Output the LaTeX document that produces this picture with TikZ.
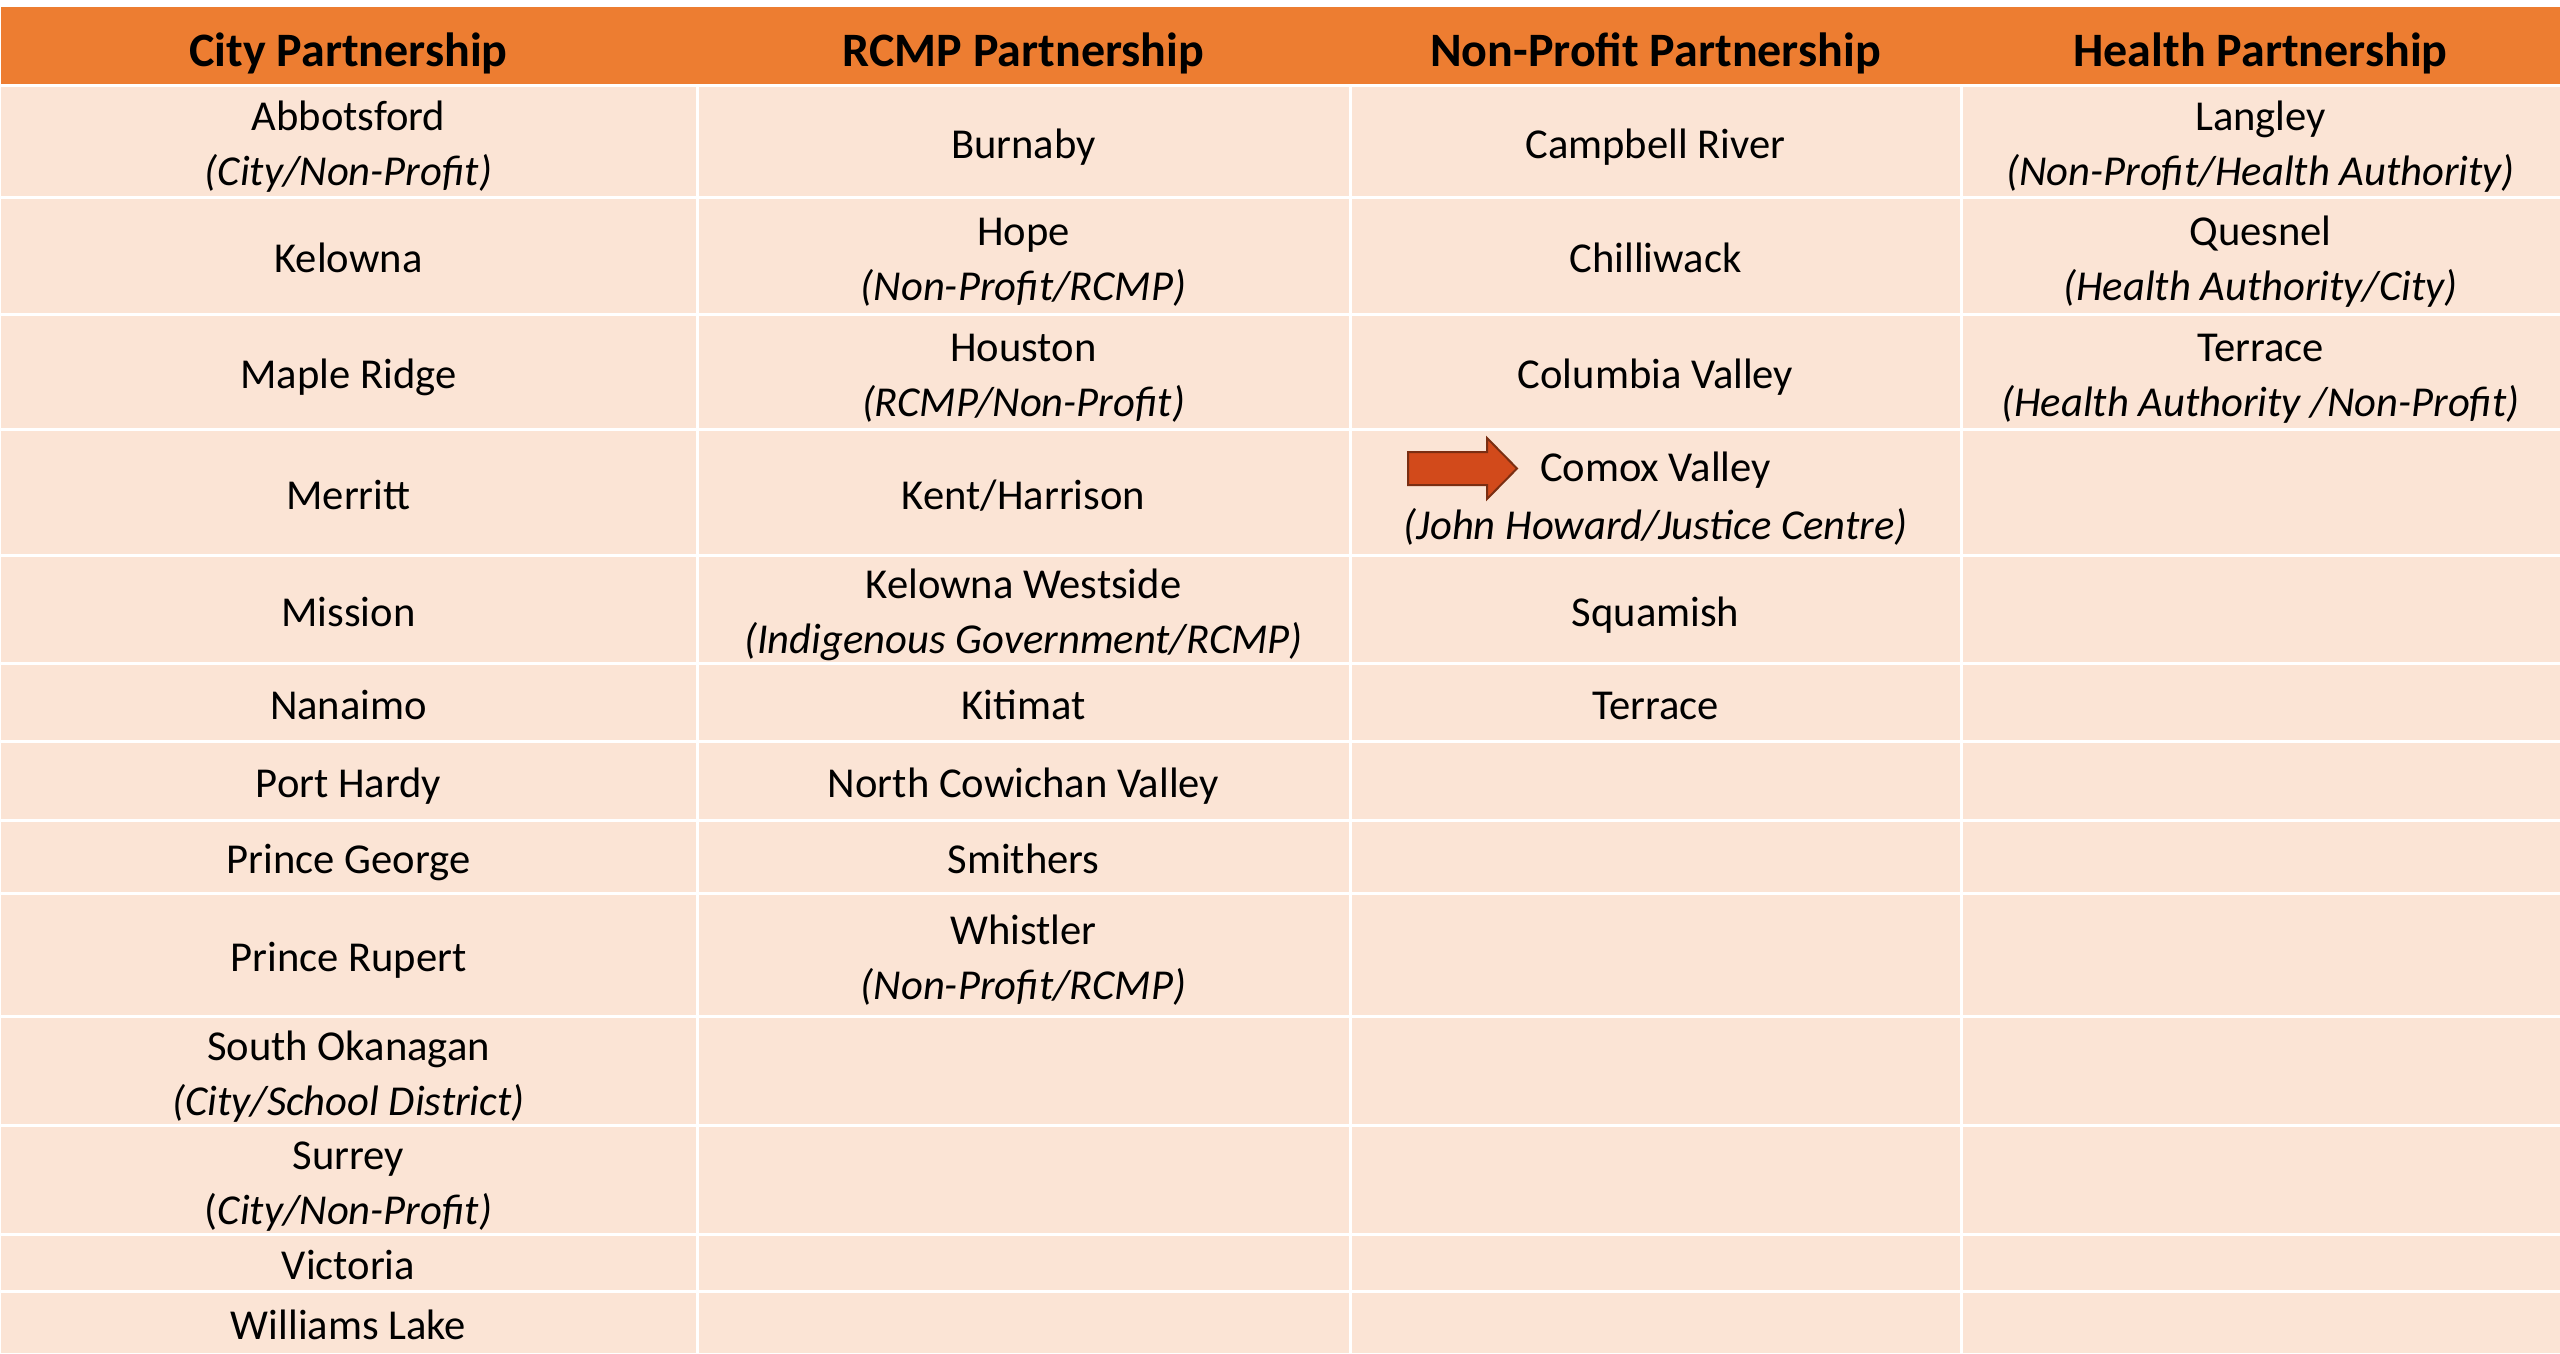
\documentclass[tikz,border=0pt]{standalone}
\usepackage{fontspec}
\setmainfont{Carlito}
\definecolor{hdr}{HTML}{ED7D31}
\definecolor{body}{HTML}{FBE4D5}
\definecolor{arrfill}{HTML}{D24A1B}
\definecolor{arrline}{HTML}{7A2E12}
\newcommand{\cellone}[4]{\node[txt] (#1) at ({#2},{#3+17}) {#4};}
\newcommand{\celltwo}[5]{\node[txt] (#1) at ({#2},{#3-10.5}) {#4};
  \node[txt] (#1b) at ({#2},{#3+44.5}) {\itshape #5};}
\begin{document}
\begin{tikzpicture}[x=1pt,y=-1pt,
  txt/.style={anchor=base,inner sep=0pt,font=\fontsize{42.6}{55}\selectfont},
  hdrtxt/.style={anchor=base,inner sep=0pt,font=\fontsize{48}{58}\selectfont\bfseries},
  gridline/.style={white,line width=3pt}]
\useasboundingbox (0,0) rectangle (2560,1353);
\fill[white] (0,0) rectangle (2560,1353);
\fill[hdr] (1,7) rectangle (2560,85);
\fill[body] (1,85) rectangle (2560,1353);
% grid
\foreach \yy in {85,197,314,429,555,663,741,820,893,1016,1125,1234,1291}
  \draw[gridline] (1,\yy) -- (2560,\yy);
\foreach \xx in {697,1350,1961}
  \draw[gridline] (\xx,85) -- (\xx,1353);
% headers
\node[hdrtxt] (h1) at (348.5,66) {City Partnership};
\node[hdrtxt] (h2) at (1023.5,66) {RCMP Partnership};
\node[hdrtxt] (h3) at (1655.5,66) {Non-Profit Partnership};
\node[hdrtxt] (h4) at (2260.5,66) {Health Partnership};
% column 1
\celltwo{a1}{348.5}{141}{Abbotsford}{(City/Non-Profit)}
\cellone{a2}{348.5}{255.5}{Kelowna}
\cellone{a3}{348.5}{371.5}{Maple Ridge}
\cellone{a4}{348.5}{492}{Merritt}
\cellone{a5}{348.5}{609}{Mission}
\cellone{a6}{348.5}{702}{Nanaimo}
\cellone{a7}{348.5}{780.5}{Port Hardy}
\cellone{a8}{348.5}{856.5}{Prince George}
\cellone{a9}{348.5}{954.5}{Prince Rupert}
\celltwo{a10}{348.5}{1070.5}{South Okanagan}{(City/School District)}
\node[txt] (a11) at (348.5,1169) {Surrey};
\node[txt] (a11b) at (348.5,1224) {(\textit{City/Non-Profit)}};
\cellone{a12}{348.5}{1262.5}{Victoria}
\cellone{a13}{348.5}{1322}{Williams Lake}
% column 2
\cellone{b1}{1023.5}{141}{Burnaby}
\celltwo{b2}{1023.5}{255.5}{Hope}{(Non-Profit/RCMP)}
\celltwo{b3}{1023.5}{371.5}{Houston}{(RCMP/Non-Profit)}
\cellone{b4}{1023.5}{492}{Kent/Harrison}
\celltwo{b5}{1023.5}{609}{Kelowna Westside}{(Indigenous Government/RCMP)}
\cellone{b6}{1023.5}{702}{Kitimat}
\cellone{b7}{1023.5}{780.5}{North Cowichan Valley}
\cellone{b8}{1023.5}{856.5}{Smithers}
\celltwo{b9}{1023.5}{954.5}{Whistler}{(Non-Profit/RCMP)}
% column 3
\cellone{c1}{1655.5}{141}{Campbell River}
\cellone{c2}{1655.5}{255.5}{Chilliwack}
\cellone{c3}{1655.5}{371.5}{Columbia Valley}
\node[txt] (c4) at (1655.5,481) {Comox Valley};
\node[txt] (c4b) at (1655.5,539) {\itshape (John Howard/Justice Centre)};
\cellone{c5}{1655.5}{609}{Squamish}
\cellone{c6}{1655.5}{702}{Terrace}
% column 4
\celltwo{d1}{2260.5}{141}{Langley}{(Non-Profit/Health Authority)}
\celltwo{d2}{2260.5}{255.5}{Quesnel}{(Health Authority/City)}
\celltwo{d3}{2260.5}{371.5}{Terrace}{(Health Authority /Non-Profit)}
% arrow
\draw[fill=arrfill,draw=arrline,line width=2pt,line join=miter]
  (1408,452) -- (1487,452) -- (1487,438) -- (1517,468.5) -- (1487,499)
  -- (1487,485) -- (1408,485) -- cycle;
\end{tikzpicture}
\end{document}
